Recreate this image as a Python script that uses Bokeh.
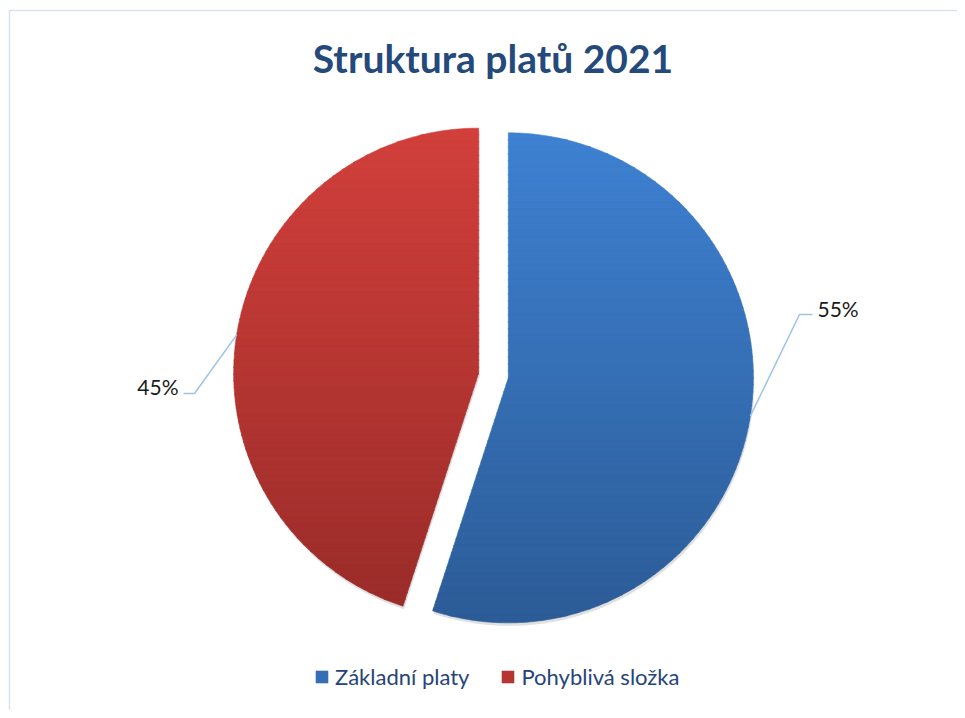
import numpy as np
from bokeh.plotting import figure
from bokeh.models import Range1d, Legend, LegendItem, ColumnDataSource
from bokeh.core.properties import value
from bokeh.embed import file_html
from bokeh.resources import INLINE

# ---- data ----
title_text = "Struktura platů 2021"
categories = ["Základní platy", "Pohyblivá složka"]
shares = [55, 45]
pct_labels = ["55%", "45%"]
top_colors = ["#3E81D2", "#D23F3B"]
bottom_colors = ["#2C5C97", "#9A2C29"]

# ---- layout ----
W, H = 957, 710
X0, Y0 = 0, 0
CX, CY, R, EXPLODE = 493, 375, 245, 15
FONT = "Lato"
leader_elbows = [(799, 314), (194, 393)]
leader_ends = [(812, 314), (183, 393)]
label_anchor = [(817, 308, "left"), (178, 386, "right")]

p = figure(width=W, height=H, x_range=Range1d(X0, X0 + W), y_range=Range1d(Y0 + H, Y0),
           output_backend="svg", toolbar_location=None, min_border=0,
           x_axis_location=None, y_axis_location=None)
p.grid.visible = False
p.outline_line_color = None
p.background_fill_color = "white"
p.border_fill_color = "white"

# chart-area border (left and top edges visible)
p.line([9, 9, 970], [720, 10, 10], line_color="#D9E2F3", line_width=1.5)


def hex2rgb(h):
    h = h.lstrip("#")
    return tuple(int(h[i:i + 2], 16) for i in (0, 2, 4))


def mix(c1, c2, t):
    a, b = hex2rgb(c1), hex2rgb(c2)
    return "#%02x%02x%02x" % tuple(int(round(a[i] + (b[i] - a[i]) * t)) for i in range(3))


def clip_edge(pts, inside, inter):
    out = []
    for i in range(len(pts)):
        cur, prev = pts[i], pts[i - 1]
        if inside(cur):
            if not inside(prev):
                out.append(inter(prev, cur))
            out.append(cur)
        elif inside(prev):
            out.append(inter(prev, cur))
    return out


def inter_y(y):
    return lambda a, b: (a[0] + (b[0] - a[0]) * (y - a[1]) / (b[1] - a[1]), y)


def clip_band(poly, ylo, yhi):
    pts = clip_edge(poly, lambda q: q[1] >= ylo, inter_y(ylo))
    if pts:
        pts = clip_edge(pts, lambda q: q[1] <= yhi, inter_y(yhi))
    return pts


total = float(sum(shares))
start = 0.0
shadow_xs, shadow_ys = [], []
band_xs, band_ys, band_cols = [], [], []
legend_idx = []
leader_xs, leader_ys = [], []
for k, v in enumerate(shares):
    a0 = start / total * 2 * np.pi
    a1 = (start + v) / total * 2 * np.pi
    start += v
    mid = (a0 + a1) / 2
    cx = CX + EXPLODE * np.sin(mid)
    cy = CY - EXPLODE * np.cos(mid)
    th = np.linspace(a0, a1, 240)
    poly = [(cx, cy)] + [(cx + R * np.sin(t), cy - R * np.cos(t)) for t in th]
    shadow_xs.append([q[0] + 1 for q in poly])
    shadow_ys.append([q[1] + 3 for q in poly])
    ys = [q[1] for q in poly]
    ymin, ymax = min(ys), max(ys)
    nb = 70
    edges = np.linspace(ymin, ymax, nb + 1)
    first = len(band_cols)
    for b in range(nb):
        pts = clip_band(poly, edges[b] - 0.4, edges[b + 1] + 0.4)
        if len(pts) < 3:
            continue
        band_xs.append([q[0] for q in pts])
        band_ys.append([q[1] for q in pts])
        band_cols.append(mix(top_colors[k], bottom_colors[k], (b + 0.5) / nb))
    legend_idx.append(first + (len(band_cols) - first) // 2)
    # leader line
    ax, ay = cx + R * np.sin(mid), cy - R * np.cos(mid)
    ex, ey = leader_elbows[k]
    fx, fy = leader_ends[k]
    leader_xs.append([ax, ex, fx])
    leader_ys.append([ay, ey, fy])

p.patches(shadow_xs, shadow_ys, fill_color="#000000", fill_alpha=0.12, line_color=None)
src = ColumnDataSource(dict(xs=band_xs, ys=band_ys, c=band_cols))
r = p.patches("xs", "ys", source=src, fill_color="c", line_color="c", line_width=0.6)

p.multi_line(leader_xs, leader_ys, line_color="#9DC3E6", line_width=1.5)

for k, (lx, ly, al) in enumerate(label_anchor):
    p.text([lx], [ly], text=[pct_labels[k]], text_align=al, text_baseline="middle",
           text_font=value(FONT), text_font_size="21px", text_color="#1a1a1a")

p.text([492.5], [57], text=[title_text], text_align="center", text_baseline="middle",
       text_font=value(FONT), text_font_style="bold", text_font_size="39px", text_color="#24497B")

legend = Legend(items=[LegendItem(label=categories[k], renderers=[r], index=legend_idx[k]) for k in range(2)],
                orientation="horizontal", location=(314, 20), glyph_width=15, glyph_height=15,
                label_standoff=6, spacing=31, padding=0, margin=0, border_line_color=None,
                background_fill_alpha=0, label_text_font=FONT, label_text_font_size="22px",
                label_text_color="#264478")
p.add_layout(legend)

open("out.html", "w").write(file_html(p, INLINE))
